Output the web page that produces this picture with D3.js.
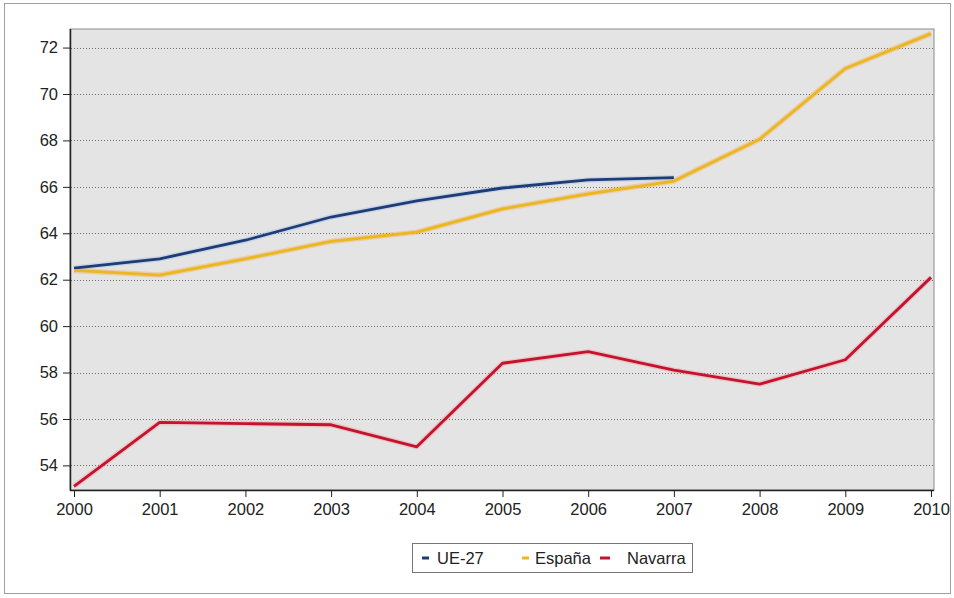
<!DOCTYPE html>
<html><head><meta charset="utf-8">
<script src="https://cdn.jsdelivr.net/npm/d3@7"></script>
<style>body{margin:0;background:#fff}svg{display:block}text{font-family:"Liberation Sans",Arial,sans-serif}</style>
</head><body><svg id="c" width="954" height="598"></svg>
<script>
const years = [2000,2001,2002,2003,2004,2005,2006,2007,2008,2009,2010];
const ue27 = [62.5,62.9,63.7,64.7,65.4,65.95,66.3,66.4];
const espana = [62.4,62.2,62.9,63.65,64.05,65.05,65.7,66.25,68.05,71.1,72.6];
const navarra = [53.1,55.85,55.8,55.75,54.8,58.4,58.9,58.1,57.5,58.55,62.1];
const yTicks = [54,56,58,60,62,64,66,68,70,72];
const seriesNames = ["UE-27","España","Navarra"];
const seriesColors = ["#1d3c78","#eab81c","#c4122f"];

const svg = d3.select("#c");
const L=70, R=934, T=29, B=490;
const x = d3.scaleLinear().domain([2000,2010]).range([74,931]);
const y = d3.scaleLinear().domain([52.94,72.8]).range([B,T]);

svg.append("rect").attr("x",4.5).attr("y",3.5).attr("width",946).attr("height",590)
  .attr("fill","#fff").attr("stroke","#a0a0a0");
svg.append("rect").attr("x",L).attr("y",T).attr("width",R-L).attr("height",B-T)
  .attr("fill","#e4e4e4").attr("stroke","#8c8c8c");
svg.append("g").selectAll("line").data(yTicks).join("line")
  .attr("x1",L+1).attr("x2",R-1).attr("y1",d=>Math.round(y(d))+0.5).attr("y2",d=>Math.round(y(d))+0.5)
  .attr("stroke","#707070").attr("stroke-dasharray","1,2").attr("stroke-width",1);

const yAxis = d3.axisLeft(y).tickValues(yTicks).tickSize(7).tickPadding(5);
const gy = svg.append("g").attr("transform",`translate(${L},0)`).call(yAxis);
const xAxis = d3.axisBottom(x).tickValues(years).tickFormat(d3.format("d")).tickSize(7).tickPadding(6);
const gx = svg.append("g").attr("transform",`translate(0,${B})`).call(xAxis);
[gx,gy].forEach(g=>{
  g.select(".domain").remove();
  g.selectAll("line").attr("stroke","#222");
  g.selectAll("text").attr("font-size","16.5px").attr("fill","#222").attr("font-family","Liberation Sans, Arial, sans-serif");
});
svg.append("line").attr("x1",L+0.5).attr("x2",L+0.5).attr("y1",T).attr("y2",B+1).attr("stroke","#222").attr("stroke-width",1.5);
svg.append("line").attr("x1",L).attr("x2",R).attr("y1",B+0.5).attr("y2",B+0.5).attr("stroke","#222").attr("stroke-width",1.5);

const data = [ue27, espana, navarra];
const line = d3.line().x((d,i)=>x(years[i])).y(d=>y(d)).curve(d3.curveLinear);
const halo = ["#9bb7e0","#f5a040","#f29090"];
data.forEach((s,k)=>{
  svg.append("path").attr("d",line(s)).attr("fill","none").attr("stroke",halo[k]).attr("stroke-opacity",0.35).attr("stroke-width",5.5).attr("stroke-linejoin","round");
});
data.forEach((s,k)=>{
  svg.append("path").attr("d",line(s)).attr("fill","none").attr("stroke",seriesColors[k]).attr("stroke-width",2.8).attr("stroke-linejoin","round");
});

const lg = svg.append("g");
lg.append("rect").attr("x",412.5).attr("y",543.5).attr("width",280).attr("height",29).attr("fill","#fff").attr("stroke","#777");
const itemX = [422,522,600];
seriesNames.forEach((n,i)=>{
  lg.append("line").attr("x1",itemX[i]).attr("x2",itemX[i]+(i===2?10:7)).attr("y1",558).attr("y2",558)
    .attr("stroke",seriesColors[i]).attr("stroke-width",3);
  lg.append("text").attr("x",itemX[i]+(i===0?15:(i===1?13:27))).attr("y",564).attr("font-size","16.5px").attr("fill","#222").text(n);
});
</script></body></html>
